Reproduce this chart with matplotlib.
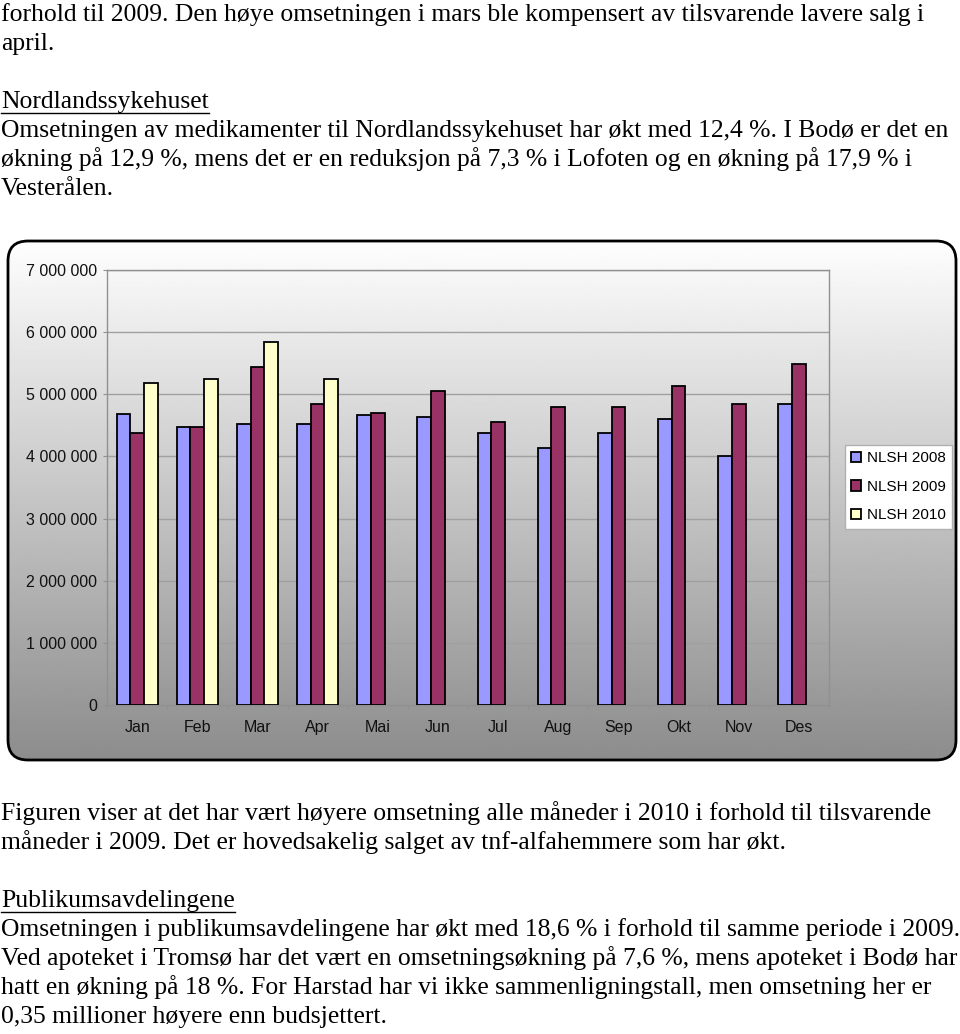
import numpy as np
import matplotlib
matplotlib.use("Agg")
import matplotlib.pyplot as plt
from matplotlib.patches import FancyBboxPatch
from matplotlib.ticker import FuncFormatter, MultipleLocator

months = ["Jan", "Feb", "Mar", "Apr", "Mai", "Jun", "Jul", "Aug", "Sep", "Okt", "Nov", "Des"]
nlsh_2008 = [4.68, 4.47, 4.52, 4.52, 4.66, 4.63, 4.38, 4.13, 4.38, 4.61, 4.01, 4.84]
nlsh_2009 = [4.38, 4.47, 5.44, 4.85, 4.70, 5.06, 4.56, 4.80, 4.80, 5.13, 4.84, 5.48]
nlsh_2010 = [5.18, 5.25, 5.84, 5.25]
series_names = ["NLSH 2008", "NLSH 2009", "NLSH 2010"]
colors = ["#9999ff", "#993366", "#ffffcc"]

text_top = [
    "forhold til 2009. Den høye omsetningen i mars ble kompensert av tilsvarende lavere salg i",
    "april.",
    None,
    "Nordlandssykehuset",
    "Omsetningen av medikamenter til Nordlandssykehuset har økt med 12,4 %. I Bodø er det en",
    "økning på 12,9 %, mens det er en reduksjon på 7,3 % i Lofoten og en økning på 17,9 % i",
    "Vesterålen.",
]
text_bottom = [
    "Figuren viser at det har vært høyere omsetning alle måneder i 2010 i forhold til tilsvarende",
    "måneder i 2009. Det er hovedsakelig salget av tnf-alfahemmere som har økt.",
    None,
    "Publikumsavdelingene",
    "Omsetningen i publikumsavdelingene har økt med 18,6 % i forhold til samme periode i 2009.",
    "Ved apoteket i Tromsø har det vært en omsetningsøkning på 7,6 %, mens apoteket i Bodø har",
    "hatt en økning på 18 %. For Harstad har vi ikke sammenligningstall, men omsetning her er",
    "0,35 millioner høyere enn budsjettert.",
]
headings = ["Nordlandssykehuset", "Publikumsavdelingene"]

W, H = 960, 1034
fig = plt.figure(figsize=(W / 100, H / 100), dpi=100)
bg = fig.add_axes([0, 0, 1, 1])
bg.set_xlim(0, W)
bg.set_ylim(H, 0)
bg.axis("off")

# body text (page text above and below the chart)
serif = "Liberation Serif"
fs = 18.45
line_h = 29.05
heading_texts = []
for start, lines in [(21, text_top), (820, text_bottom)]:
    for i, s in enumerate(lines):
        if s is None:
            continue
        t = bg.text(1, start + i * line_h, s, family=serif, fontsize=fs,
                    va="baseline", ha="left", color="black")
        if s in headings:
            heading_texts.append(t)

# chart box with gradient
box = FancyBboxPatch((8, 241), 948, 519, boxstyle="round,pad=0,rounding_size=20",
                     facecolor="none", edgecolor="black", linewidth=2, zorder=3)
grad = np.linspace(0.995, 0.55, 256).reshape(-1, 1)
im = bg.imshow(grad, cmap="gray", vmin=0, vmax=1, aspect="auto",
               extent=[8, 956, 760, 241], zorder=2)
bg.add_patch(box)
im.set_clip_path(box)
bg.set_xlim(0, W)
bg.set_ylim(H, 0)

# bar chart
ax = fig.add_axes([107 / W, 1 - 705 / H, (829 - 107) / W, (705 - 270) / H])
ax.set_facecolor("none")
x = np.arange(len(months))
bw = 0.228
for k, vals in enumerate([nlsh_2008, nlsh_2009, nlsh_2010]):
    v = np.array(vals) * 1e6
    ax.bar(x[:len(v)] + (k - 1) * bw, v, width=bw, color=colors[k],
           edgecolor="black", linewidth=1.3, label=series_names[k], zorder=3)

ax.set_xlim(-0.5, 11.5)
ax.set_ylim(0, 7e6)
ax.yaxis.set_major_locator(MultipleLocator(1e6))
ax.yaxis.set_major_formatter(FuncFormatter(lambda v, p: f"{int(v):,}".replace(",", " ")))
ax.grid(axis="y", color="#a0a0a0", linewidth=1, zorder=0)
ax.set_axisbelow(True)
for sp in ax.spines.values():
    sp.set_color("#909090")
    sp.set_linewidth(1)
ax.set_xticks(x)
ax.set_xticklabels(months)
ax.set_xticks(np.arange(-0.5, 12, 1), minor=True)
ax.tick_params(axis="x", which="major", length=0, pad=11)
ax.tick_params(axis="x", which="minor", length=3, color="#909090")
ax.tick_params(axis="y", length=3, color="#909090", pad=4.3)
for lab in ax.get_xticklabels() + ax.get_yticklabels():
    lab.set_family("Liberation Sans")
    lab.set_fontsize(11.5)
    lab.set_color("#111111")

leg = fig.legend(loc="upper left", bbox_to_anchor=(845 / W, 1 - 445 / H),
                 prop={"family": "Liberation Sans", "size": 11},
                 handlelength=0.65, handleheight=0.65, handletextpad=0.35,
                 labelspacing=0.95, borderpad=0.42, fancybox=False,
                 edgecolor="#b0b0b0", framealpha=1, borderaxespad=0)
leg.get_frame().set_linewidth(1)

# underline headings
fig.canvas.draw()
r = fig.canvas.get_renderer()
for t in heading_texts:
    bb = t.get_window_extent(r)
    x0, _ = bg.transData.inverted().transform((bb.x0, bb.y0))
    x1, _ = bg.transData.inverted().transform((bb.x1, bb.y0))
    yb = t.get_position()[1] + 4.5
    bg.plot([x0, x1], [yb, yb], color="black", linewidth=1)

fig.savefig("out.png", dpi=100)
